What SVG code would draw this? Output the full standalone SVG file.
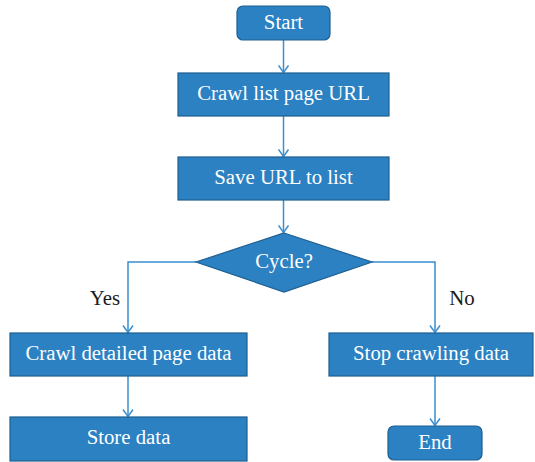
<svg xmlns="http://www.w3.org/2000/svg" width="535" height="462" viewBox="0 0 535 462">
  <style>
    .box { fill: #2b81c2; stroke: #1d5f90; stroke-width: 1.2; }
    .lbl { fill: #ffffff; }
    .cap { fill: #1a1a1a; }
    .wire { fill: none; stroke: #3a8fd0; stroke-width: 1.5; }
  </style>
  <defs>
    <marker id="chev" viewBox="0 0 12 12" refX="11" refY="6" markerWidth="12" markerHeight="12" markerUnits="userSpaceOnUse" orient="auto">
      <path d="M4 1 L11 6 L4 11" fill="none" stroke="#3a8fd0" stroke-width="1.5"/>
    </marker>
  </defs>

  <g id="connectors">
    <path class="wire" d="M283.5 40 V72.5" marker-end="url(#chev)"/>
    <path class="wire" d="M283.5 116 V156.5" marker-end="url(#chev)"/>
    <path class="wire" d="M283.5 200 V232.5" marker-end="url(#chev)"/>
    <path class="wire" d="M196 262 H128 V332.5" marker-end="url(#chev)"/>
    <path class="wire" d="M372 262 H435 V332.5" marker-end="url(#chev)"/>
    <path class="wire" d="M128 376 V416.5" marker-end="url(#chev)"/>
    <path class="wire" d="M435 376 V425.5" marker-end="url(#chev)"/>
  </g>

  <g font-family="Liberation Serif" font-size="20.8" text-anchor="middle">
    <g id="start">
      <rect class="box" x="237" y="6" width="93" height="34" rx="6"/>
      <text class="lbl" x="283.5" y="28.5">Start</text>
    </g>
    <g id="crawl-list">
      <rect class="box" x="178" y="73" width="211" height="43"/>
      <text class="lbl" x="283.5" y="99.5">Crawl list page URL</text>
    </g>
    <g id="save-url">
      <rect class="box" x="178" y="157" width="211" height="43"/>
      <text class="lbl" x="283.5" y="183.5">Save URL to list</text>
    </g>
    <g id="cycle">
      <polygon class="box" points="284,233 372,262 284,292 196,262"/>
      <text class="lbl" x="284" y="267.5">Cycle?</text>
    </g>
    <g id="crawl-detail">
      <rect class="box" x="10" y="333" width="237" height="43"/>
      <text class="lbl" x="128.5" y="360">Crawl detailed page data</text>
    </g>
    <g id="store">
      <rect class="box" x="10" y="417" width="237" height="44"/>
      <text class="lbl" x="128.5" y="444">Store data</text>
    </g>
    <g id="stop">
      <rect class="box" x="329" y="333" width="204" height="43"/>
      <text class="lbl" x="431" y="360">Stop crawling data</text>
    </g>
    <g id="end">
      <rect class="box" x="388" y="426" width="94" height="34" rx="6"/>
      <text class="lbl" x="435" y="448.5">End</text>
    </g>

    <g id="labels">
      <text class="cap" x="105" y="305">Yes</text>
      <text class="cap" x="462" y="305">No</text>
    </g>
  </g>
</svg>
